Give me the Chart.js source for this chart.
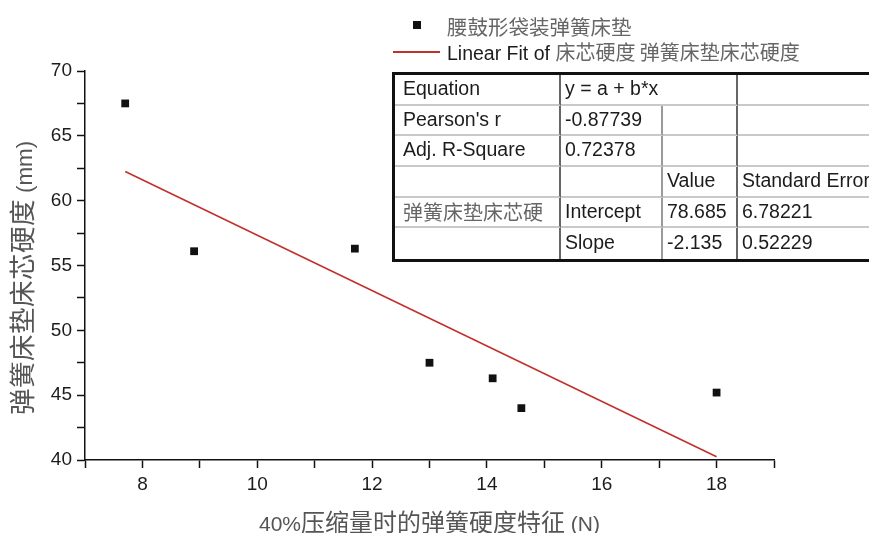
<!DOCTYPE html>
<html>
<head>
<meta charset="utf-8">
<script src="https://cdn.jsdelivr.net/npm/chart.js@4/dist/chart.umd.min.js"></script>
<style>
  /* Larger CJK glyphs mixed into the Latin axis titles */
  @font-face {
    font-family: 'CJKTitleX';
    src: local('Noto Sans CJK SC'), local('Noto Sans CJK SC Regular'), local('NotoSansCJKsc-Regular');
    size-adjust: 114%;
    unicode-range: U+3000-9FFF, U+FF00-FFEF;
  }
  @font-face {
    font-family: 'CJKTitleY';
    src: local('Noto Sans CJK SC'), local('Noto Sans CJK SC Regular'), local('NotoSansCJKsc-Regular');
    size-adjust: 118%;
    unicode-range: U+3000-9FFF, U+FF00-FFEF;
  }
  html, body { margin: 0; padding: 0; background: #fff; overflow: hidden; }
  #wrap { position: relative; width: 869px; height: 533px; overflow: hidden; background: #fff; }
  #chart { position: absolute; left: 0; top: 0; }
  .abs { position: absolute; white-space: nowrap; }
  .lat { font-family: 'Liberation Sans', Arial, sans-serif; font-size: 19.5px; color: #1c1c1c; }
  .cjk { font-family: 'Noto Sans CJK SC', sans-serif; color: #666; }
  #lgSq { left: 413px; top: 21px; width: 8px; height: 8px; background: #111; }
  #lgText1 { left: 447px; top: 14px; line-height: 24px; font-size: 20.5px; }
  #lgLine { left: 393px; top: 51px; width: 47px; height: 2px; background: #c3302c; }
  #lgText2 { left: 447px; top: 40px; line-height: 24px; }
  #lgText2 .cjk { font-size: 20px; }
  #fitTable {
    position: absolute; left: 392px; top: 72px;
    border-top: 3px solid #111; border-left: 3px solid #111; border-bottom: 3px solid #111;
    background: #fff;
    display: grid;
    grid-template-columns: 166px 102px 75px 174px;
    grid-auto-rows: 30.7px;
  }
  .cell {
    box-sizing: border-box;
    border-bottom: 2px solid #c9c9c9;
    border-right: 2px solid #9a9a9a;
    padding-left: 4px; padding-bottom: 2px;
    display: flex; align-items: center;
    white-space: nowrap; overflow: hidden;
    font-family: 'Liberation Sans', Arial, sans-serif; font-size: 19.5px; color: #1c1c1c;
  }
  .cell.c1 { padding-left: 8px; border-right-color: #666; }
  .cell.c3 { border-right-color: #666; }
  .cell.last { border-bottom: none; }
  .cell .cjk { font-size: 20px; }
</style>
</head>
<body>
<div id="wrap">
  <canvas id="chart" width="869" height="533"></canvas>
  <div id="lgSq" class="abs"></div>
  <div id="lgText1" class="abs cjk"></div>
  <div id="lgLine" class="abs"></div>
  <div id="lgText2" class="abs"></div>
  <div id="fitTable"></div>
</div>
<script>
// Measured spring hardness (N) vs. mattress core hardness (mm)
const xValues = [7.7, 8.9, 11.7, 13.0, 14.1, 14.6, 18.0];
const yValues = [67.5, 56.1, 56.3, 47.5, 46.3, 44.0, 45.2];

// Linear fit y = a + b*x
const fitIntercept = 78.685;
const fitSlope = -2.135;
const fitXRange = [7.7, 18.0];
const pearsonR = '-0.87739';
const adjRSquare = '0.72378';
const interceptError = '6.78221';
const slopeError = '0.52229';

// Axis tick labels and texts
const xLabelTicks = [8, 10, 12, 14, 16, 18];
const yLabelTicks = [40, 45, 50, 55, 60, 65, 70];
const seriesName = '腰鼓形袋装弹簧床垫';
const fitNameLatin = 'Linear Fit of ';
const fitNameCjk = '床芯硬度 弹簧床垫床芯硬度';
const fitRowName = '弹簧床垫床芯硬';
const xTitle = '40%压缩量时的弹簧硬度特征 (N)';
const yTitle = '弹簧床垫床芯硬度 (mm)';

// Legend
document.getElementById('lgText1').textContent = seriesName;
const lg2 = document.getElementById('lgText2');
const lgLat = document.createElement('span'); lgLat.className = 'lat'; lgLat.textContent = fitNameLatin;
const lgCjk = document.createElement('span'); lgCjk.className = 'cjk'; lgCjk.textContent = fitNameCjk;
lg2.appendChild(lgLat); lg2.appendChild(lgCjk);

// Fit statistics table
const tableRows = [
  [{t: 'Equation'}, {t: 'y = a + b*x', span: 2}, {t: ''}],
  [{t: "Pearson's r"}, {t: pearsonR}, {t: ''}, {t: ''}],
  [{t: 'Adj. R-Square'}, {t: adjRSquare}, {t: ''}, {t: ''}],
  [{t: ''}, {t: ''}, {t: 'Value'}, {t: 'Standard Error'}],
  [{t: fitRowName, cjk: true}, {t: 'Intercept'}, {t: fitIntercept.toFixed(3)}, {t: interceptError}],
  [{t: ''}, {t: 'Slope'}, {t: fitSlope.toFixed(3)}, {t: slopeError}]
];
const tbl = document.getElementById('fitTable');
tableRows.forEach((row, ri) => {
  let col = 1;
  row.forEach(c => {
    const d = document.createElement('div');
    const span = c.span || 1;
    const endCol = col + span - 1;
    d.className = 'cell c' + endCol + (col === 1 ? ' c1' : '') + (ri === tableRows.length - 1 ? ' last' : '');
    if (span > 1) d.style.gridColumn = 'span ' + span;
    if (c.cjk) {
      const s = document.createElement('span'); s.className = 'cjk'; s.textContent = c.t; d.appendChild(s);
    } else {
      d.textContent = c.t;
    }
    tbl.appendChild(d);
    col += span;
  });
});

const latinFamily = "'Liberation Sans', Arial, sans-serif";

function buildChart() {
  const points = xValues.map((x, i) => ({x: x, y: yValues[i]}));
  const fitLine = fitXRange.map(x => ({x: x, y: fitIntercept + fitSlope * x}));

  new Chart(document.getElementById('chart'), {
    type: 'scatter',
    data: {
      datasets: [
        {
          label: seriesName,
          data: points,
          pointStyle: 'rect',
          pointRadius: 5.5,
          backgroundColor: '#111',
          borderWidth: 0
        },
        {
          label: fitNameLatin + fitNameCjk,
          data: fitLine,
          type: 'line',
          showLine: true,
          pointRadius: 0,
          borderColor: '#c3302c',
          borderWidth: 1.6,
          fill: false
        }
      ]
    },
    options: {
      responsive: false,
      animation: false,
      layout: { padding: { left: 0, top: 71, right: 95, bottom: 0 } },
      plugins: { legend: { display: false }, tooltip: { enabled: false } },
      scales: {
        x: {
          type: 'linear',
          min: 7, max: 19,
          afterFit: s => { s.height = 73; },
          border: { display: true, color: '#111', width: 1.5 },
          grid: { drawOnChartArea: false, drawTicks: true, tickLength: 8, tickColor: '#111', tickWidth: 1.5 },
          ticks: {
            stepSize: 1, autoSkip: false, maxRotation: 0, padding: 5.5,
            color: '#1c1c1c', font: { family: latinFamily, size: 19 },
            callback: v => xLabelTicks.includes(v) ? String(v) : ''
          },
          title: {
            display: true, text: xTitle, color: '#555',
            font: { family: "'Liberation Sans', CJKTitleX, 'Noto Sans CJK SC', sans-serif", size: 21, lineHeight: 0.7 },
            padding: { top: 0, bottom: 0 }
          }
        },
        y: {
          type: 'linear',
          min: 40, max: 70,
          afterFit: s => { s.width = 85; },
          border: { display: true, color: '#111', width: 1.5 },
          grid: { drawOnChartArea: false, drawTicks: true, tickLength: 8, tickColor: '#111', tickWidth: 1.5 },
          ticks: {
            stepSize: 2.5, autoSkip: false, padding: 5,
            color: '#1c1c1c', font: { family: latinFamily, size: 19 },
            callback: v => yLabelTicks.includes(v) ? String(v) : ''
          },
          title: {
            display: true, text: yTitle + '\u00a0\u00a0\u00a0\u00a0', color: '#555',
            font: { family: "'Liberation Sans', CJKTitleY, 'Noto Sans CJK SC', sans-serif", size: 22.5, lineHeight: 0.7 },
            padding: { top: 18, bottom: 0 }
          }
        }
      }
    }
  });
}

Promise.all([
  document.fonts.load("19px CJKTitleX", '弹'),
  document.fonts.load("19px CJKTitleY", '弹'),
  document.fonts.load("19px 'Liberation Sans'", '0'),
  document.fonts.load("20px 'Noto Sans CJK SC'", '弹')
]).catch(() => {}).then(buildChart);
</script>
</body>
</html>
